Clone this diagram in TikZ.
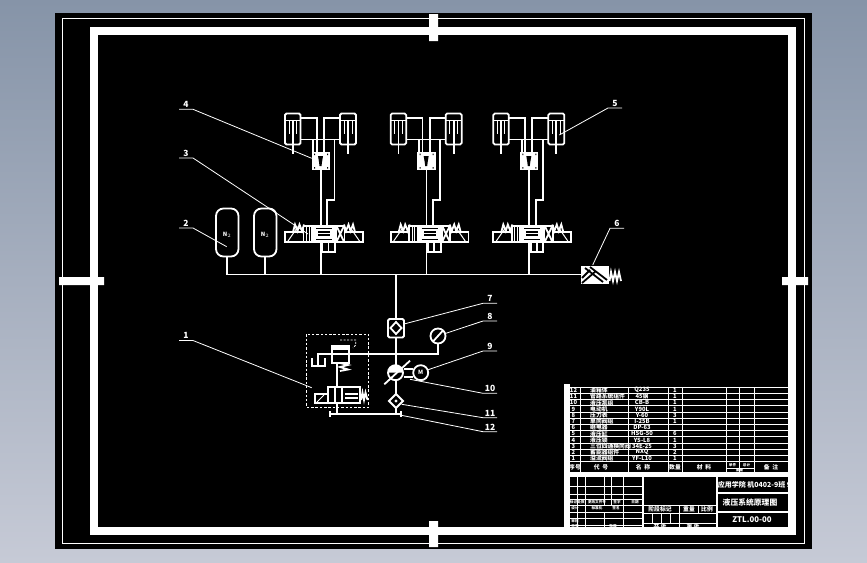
\documentclass[tikz,border=0pt]{standalone}
\usepackage{fontspec}
\usetikzlibrary{calc}
\setmainfont{Noto Sans CJK SC}
\definecolor{bgtop}{RGB}{134,148,168}
\definecolor{bgbottom}{RGB}{198,202,214}
\tikzset{
	pipe/.style={draw=white, line width=1.8pt},
	fine/.style={draw=white, line width=1pt},
	leader/.style={draw=white, line width=.8pt},
	rule/.style={draw=white, line width=.95pt},
	solid white/.style={fill=white, draw=none},
	tag/.style={text=white, font=\bfseries\fontsize{8.5}{8.5}\selectfont, inner sep=0pt},
	cell/.style={text=white, font=\bfseries\fontsize{5.8}{5.8}\selectfont, inner sep=0pt},
	tiny cell/.style={text=white, font=\bfseries\fontsize{3.6}{3.6}\selectfont, inner sep=0pt},
	title/.style={text=white, font=\bfseries\fontsize{7.8}{7.8}\selectfont, inner sep=0pt}
}
\begin{document}
\begin{tikzpicture}[x=1pt, y=-1pt]
		\useasboundingbox (0, 0) rectangle (867, 562);
		\fill [top color=bgtop, bottom color=bgbottom] (0, 0) rectangle (867, 562);
		\fill (55, 13) rectangle (812, 549);
		\draw [white, line width=1pt] (62, 18.5) rectangle (804.5, 543);

		% accumulators and main line
		\draw [pipe, rounded corners=7.5pt] (216, 208.5) rectangle (238.5, 256.5);
		\draw [pipe, rounded corners=7.5pt] (254, 208.5) rectangle (276.5, 256.5);
		\node [cell] (gas a) at (227, 234.5) {N$_2$};
		\node [cell] (gas b) at (265, 234.5) {N$_2$};
		\draw [pipe] (227, 256.5) -- (227, 274.5) -- (581, 274.5);
		\draw [pipe] (265, 256.5) -- (265, 274.5);

		% the three cylinder branches
		\foreach \dx in {0, 105.7, 208.3} {
			\begin{scope}[shift={(\dx, 0)}]
				\draw [pipe, rounded corners=1.5pt] (285, 113.5) rectangle (300.5, 144.5);
				\draw [pipe, rounded corners=1.5pt] (340, 113.5) rectangle (356, 144.5);
				\draw [pipe] (285, 120.5) -- (300.5, 120.5) (340, 120.5) -- (356, 120.5);
				\draw [fine] (289, 120.5) -- (289, 134) (296.5, 120.5) -- (296.5, 134);
				\draw [fine] (344, 120.5) -- (344, 134) (352, 120.5) -- (352, 134);
				\draw [pipe] (292.7, 120.5) -- (292.7, 153.5) (348, 120.5) -- (348, 153.5);
				\draw [pipe] (300.5, 118) -| (316.7, 152) (340, 118) -| (324, 152);
				\draw [pipe] (300.5, 139.5) -- (340, 139.5) (313.3, 139.5) -- (313.3, 152);
				\draw [pipe] (334.5, 139.5) -- (334.5, 200) -- (327.3, 200) -- (327.3, 226);
				% lock block
				\fill [solid white] (311.7, 151.7) rectangle (330, 170);
				\fill [black] (318, 156) -- (323, 156) -- (322, 162) -- (321.5, 166) -- (319.5, 166) -- (319, 162) -- cycle;
				\fill [black] (314, 153.5) rectangle (315, 155) (327, 153.5) rectangle (328, 155) (314, 167) rectangle (315, 168.5) (327, 167) rectangle (328, 168.5);
				\draw [pipe] (320.7, 170) -- (320.7, 226);
				% directional valve
				\draw [pipe] (285, 232) rectangle (303.5, 241.7);
				\draw [pipe] (344.5, 232) rectangle (362.7, 241.7);
				\draw [pipe] (303.5, 226) rectangle (344.5, 241.7);
				\draw [pipe] (311.7, 226) -- (311.7, 241.7) (336, 226) -- (336, 241.7);
				\draw [fine] (288, 241) -- (297, 228) (359.5, 241) -- (350.5, 228);
				\draw [fine] (306.5, 226) -- (306.5, 241.7) (309, 226) -- (309, 241.7);
				\draw [pipe] (336.5, 226) -- (344, 241.7) (344, 226) -- (336.5, 241.7);
				\fill [solid white] (311.7, 226) rectangle (336, 241.7);
				\fill [black] (318, 231) rectangle (330, 235.5);
				\draw [black, line width=.6pt] (316, 228.5) -- (332, 228.5) (316, 239) -- (332, 239);
				\draw [fine] (318, 233.2) -- (330, 233.2);
				\draw [pipe] (293, 232) -- (295, 224.5) -- (297.5, 231) -- (299.5, 224.5) -- (302, 231) -- (304, 224.5);
				\draw [pipe] (344, 224.5) -- (346, 231) -- (348.5, 224.5) -- (350.5, 231) -- (353, 224.5) -- (355, 232);
				\draw [pipe] (320.7, 241.7) -- (320.7, 274.5);
				\draw [pipe] (322.5, 241.7) -- (322.5, 252) -- (335, 252) -- (335, 241.7) (328.5, 241.7) -- (328.5, 252);
			\end{scope}
		}

		% end of main line
		\fill [solid white] (580.7, 266) rectangle (609.3, 284);
		\draw [black, line width=1.8pt] (585, 268) -- (603, 282) (590, 267) -- (607, 280) (582, 278) -- (590, 270) (582, 283) -- (596, 271);
		\draw [pipe] (609.5, 281) -- (611, 272) -- (613, 281) -- (615, 272) -- (617, 281) -- (619, 272) -- (621, 281);

		% pump line
		\draw [pipe] (396, 274.5) -- (396, 414);
		\fill [black] (388, 319) rectangle (404, 337.5);
		\draw [pipe, rounded corners=1.5pt] (388, 319) rectangle (404, 337.5);
		\draw [pipe] (396, 322) -- (401.5, 328) -- (396, 334) -- (390.5, 328) -- cycle;
		\fill [black] (396, 328) circle (2pt);
		\draw [pipe] (331.7, 354) -- (438, 354) -- (438, 344);
		\draw [pipe, fill=black] (438, 336) circle (7.5pt);
		\draw [pipe] (433, 341.5) -- (443, 330.5);

		\draw [pipe, fill=black] (395.5, 372.7) circle (7.5pt);
		\fill [solid white] (388, 372.7) arc [start angle=180, end angle=360, radius=7.5pt, y radius=-7.5pt] -- cycle;
		\draw [pipe] (384.3, 384.3) -- (410, 360.7);
		\draw [pipe] (404, 369) -- (413, 369) (404, 377) -- (413, 377);
		\draw [pipe, fill=black] (420.7, 372.7) circle (7.5pt);
		\node [cell] (motor) at (420.7, 372.7) {M};
		\fill [black] (396, 401) +(0, -7) -- +(7, 0) -- +(0, 7) -- +(-7, 0) -- cycle;
		\draw [pipe] (396, 394) -- (403, 401) -- (396, 408) -- (389, 401) -- cycle;
		\fill [solid white] (396, 401) circle (1.6pt);

		% relief unit
		\draw [draw=white, line width=.9pt, dash pattern=on 2.5pt off 1.8pt] (306.7, 334.3) rectangle (368.7, 407.3);
		\draw [draw=white, line width=.8pt, dash pattern=on 2pt off 1.5pt] (340, 340) -- (355.7, 340) -- (355.7, 345) -- (353, 348);
		\draw [pipe] (331.7, 354) -- (318.3, 354) -- (318.3, 366);
		\draw [pipe] (311.7, 358) -- (311.7, 366) -- (325, 366) -- (325, 358);
		\draw [pipe] (331.7, 346) rectangle (349.3, 362.7);
		\fill [solid white] (331.7, 346) rectangle (349.3, 350);
		\draw [pipe] (340, 363) -- (348, 365) -- (340, 367) -- (348, 369.5) -- (340, 371);
		\draw [pipe] (336.7, 362.7) -- (336.7, 386.7) (336.7, 403.3) -- (336.7, 414);
		\draw [pipe] (327.7, 386.7) rectangle (360, 403.3);
		\draw [pipe] (315, 394) rectangle (327.7, 403.3);
		\draw [fine] (317, 402) -- (324, 395);
		\draw [pipe] (335, 386.7) -- (335, 403.3) (342, 386.7) -- (342, 403.3);
		\draw [pipe] (345, 394) -- (358, 394) (345, 398) -- (358, 398);
		\draw [pipe] (361, 400) -- (362.5, 392.5) -- (364, 400) -- (365.5, 392.5) -- (367.5, 400);
		\draw [pipe] (330, 411) -- (330, 416.5) (330, 414) -- (401, 414) (401, 411) -- (401, 416.5);

		% item numbers
		\foreach \n/\lx/\ly/\tx/\ty in {
			1/186/340.5/311.7/387.7, 2/186/228/226.7/246.7, 3/186/158/308/234, 4/186/109.3/311.7/158.3,
			5/615/108/559.3/135, 6/617/228.3/592.7/265, 7/490/303.3/404/324, 8/490/321/446/333.3,
			9/490/351/427.3/370, 10/490/393.3/410/379.3, 11/490/417.7/401.7/404.3, 12/490/431.7/400/415} {
			\node [tag, above=1.5pt] (num\n) at (\lx, \ly) {\n};
			\coordinate (end\n) at (\tx, \ty);
			\coordinate (start\n) at ($(\lx, \ly) + (-7, 0)$);
			\coordinate (knee\n) at ($(\lx, \ly) + (7, 0)$);
		}
		\foreach \n in {1, 2, 3, 4}
			\draw [leader] (start\n) -- (knee\n) -- (end\n);
		\foreach \n in {5, 6, 7, 8, 9, 10, 11, 12}
			\draw [leader] (knee\n) -- (start\n) -- (end\n);

		% parts list
		\foreach \y in {387.3, 393.5, ..., 462.5}
			\draw [rule] (570, \y) -- (788, \y);
		\foreach \x in {580, 628, 668, 682, 726, 739, 754}
			\draw [rule] (\x, 387.3) -- (\x, 472);
		\foreach \i/\name/\stuff/\qty in {
			12/油箱体/Q235/1, 11/管路系统组件/45钢/1, 10/液压泵组/CB-B/1, 9/电动机/Y90L/1,
			8/压力表/Y-60/3, 7/单向阀组/I-25B/1, 6/继电器/DP-63/{}, 5/液压缸/HSG-50/6,
			4/液压锁/YS-L8/1, 3/三位四通换向阀/34E-25/3, 2/蓄能器组件/NXQ/2, 1/溢流阀组/YF-L10/1} {
			\pgfmathsetmacro{\rowy}{390.4 + (12 - \i) * 6.2}
			\node [cell] (no\i) at (573.5, \rowy) {\i};
			\node [cell, anchor=west] (name\i) at (590, \rowy) {\name};
			\node [cell] (stuff\i) at (642, \rowy) {\stuff};
			\node [cell] (qty\i) at (675, \rowy) {\qty};
		}
		\node [cell] (head a) at (575, 467.5) {序号};
		\node [cell] (head b) at (601, 467.5) {代\ \ 号};
		\node [cell] (head c) at (643, 467.5) {名\ \ 称};
		\node [cell] (head d) at (675, 467.5) {数量};
		\node [cell] (head e) at (704, 467.5) {材\ \ 料};
		\node [tiny cell] (head f) at (732.5, 465) {单件};
		\node [tiny cell] (head g) at (746.5, 465) {总计};
		\node [tiny cell] (head h) at (739.5, 470.2) {重量};
		\node [cell] (head i) at (771, 467.5) {备\ \ 注};
		\draw [rule] (726, 468) -- (754, 468);

		% title block
		\fill [solid white] (564, 384) rectangle (570, 527);
		\fill [solid white] (570, 472) rectangle (788, 477);
		\foreach \y in {486, 494, 499, 505, 512, 518, 525}
			\draw [rule] (570, \y) -- (643, \y);
		\foreach \x/\yb in {577/527, 585/527, 604/505, 611/505, 623/505}
			\draw [rule] (\x, 477) -- (\x, \yb);
		\draw [rule] (604, 512) -- (604, 527) (623, 505) -- (623, 527);
		\draw [white, line width=1.2pt] (643, 477) -- (643, 527) (717, 477) -- (717, 527);
		\draw [white, line width=1.1pt] (717, 493) -- (788, 493) (717, 512) -- (788, 512);
		\draw [rule] (643, 505) -- (717, 505) (643, 513) -- (717, 513) (643, 523) -- (717, 523);
		\foreach \x in {652, 661, 670, 679}
			\draw [rule] (\x, 513) -- (\x, 523);
		\draw [rule] (679, 505) -- (679, 527) (698, 505) -- (698, 513);
		\node [tiny cell] (sign a) at (573.5, 502.5) {标记};
		\node [tiny cell] (sign b) at (581, 502.5) {处数};
		\node [tiny cell] (sign c) at (597, 502.5) {更改文件号};
		\node [tiny cell] (sign d) at (617, 502.5) {签字};
		\node [tiny cell] (sign e) at (635, 502.5) {日期};
		\node [tiny cell] (sign f) at (575, 508.5) {设计};
		\node [tiny cell] (sign g) at (597, 508.5) {标准化};
		\node [tiny cell] (sign h) at (616, 508.5) {签名};
		\node [tiny cell] (sign i) at (575, 521) {审核};
		\node [tiny cell] (sign j) at (575, 526) {工艺};
		\node [tiny cell] (sign k) at (613, 526) {批准};
		\node [cell] (sign l) at (660, 509) {阶段标记};
		\node [cell] (sign m) at (689, 509) {重量};
		\node [cell] (sign n) at (707, 509) {比例};
		\node [cell] (sign o) at (660, 526) {共\ 张};
		\node [cell] (sign p) at (693, 526) {第\ 张};
		\node [title] (school) at (754.5, 485) {\fontsize{7}{7}\selectfont 应用学院 机0402-9班 9};
		\node [title] (drawing) at (750, 502.7) {液压系统原理图};
		\node [title] (code) at (752, 520) {ZTL.00-00};

		% drawing frame
		\draw [white, line width=8pt] (94, 31) rectangle (792, 531);
		\fill [solid white] (429, 14) rectangle (438, 41) (429, 521) rectangle (438, 547);
		\fill [solid white] (59, 277) rectangle (104, 285) (782, 277) rectangle (808, 285);
	\end{tikzpicture}
\end{document}
